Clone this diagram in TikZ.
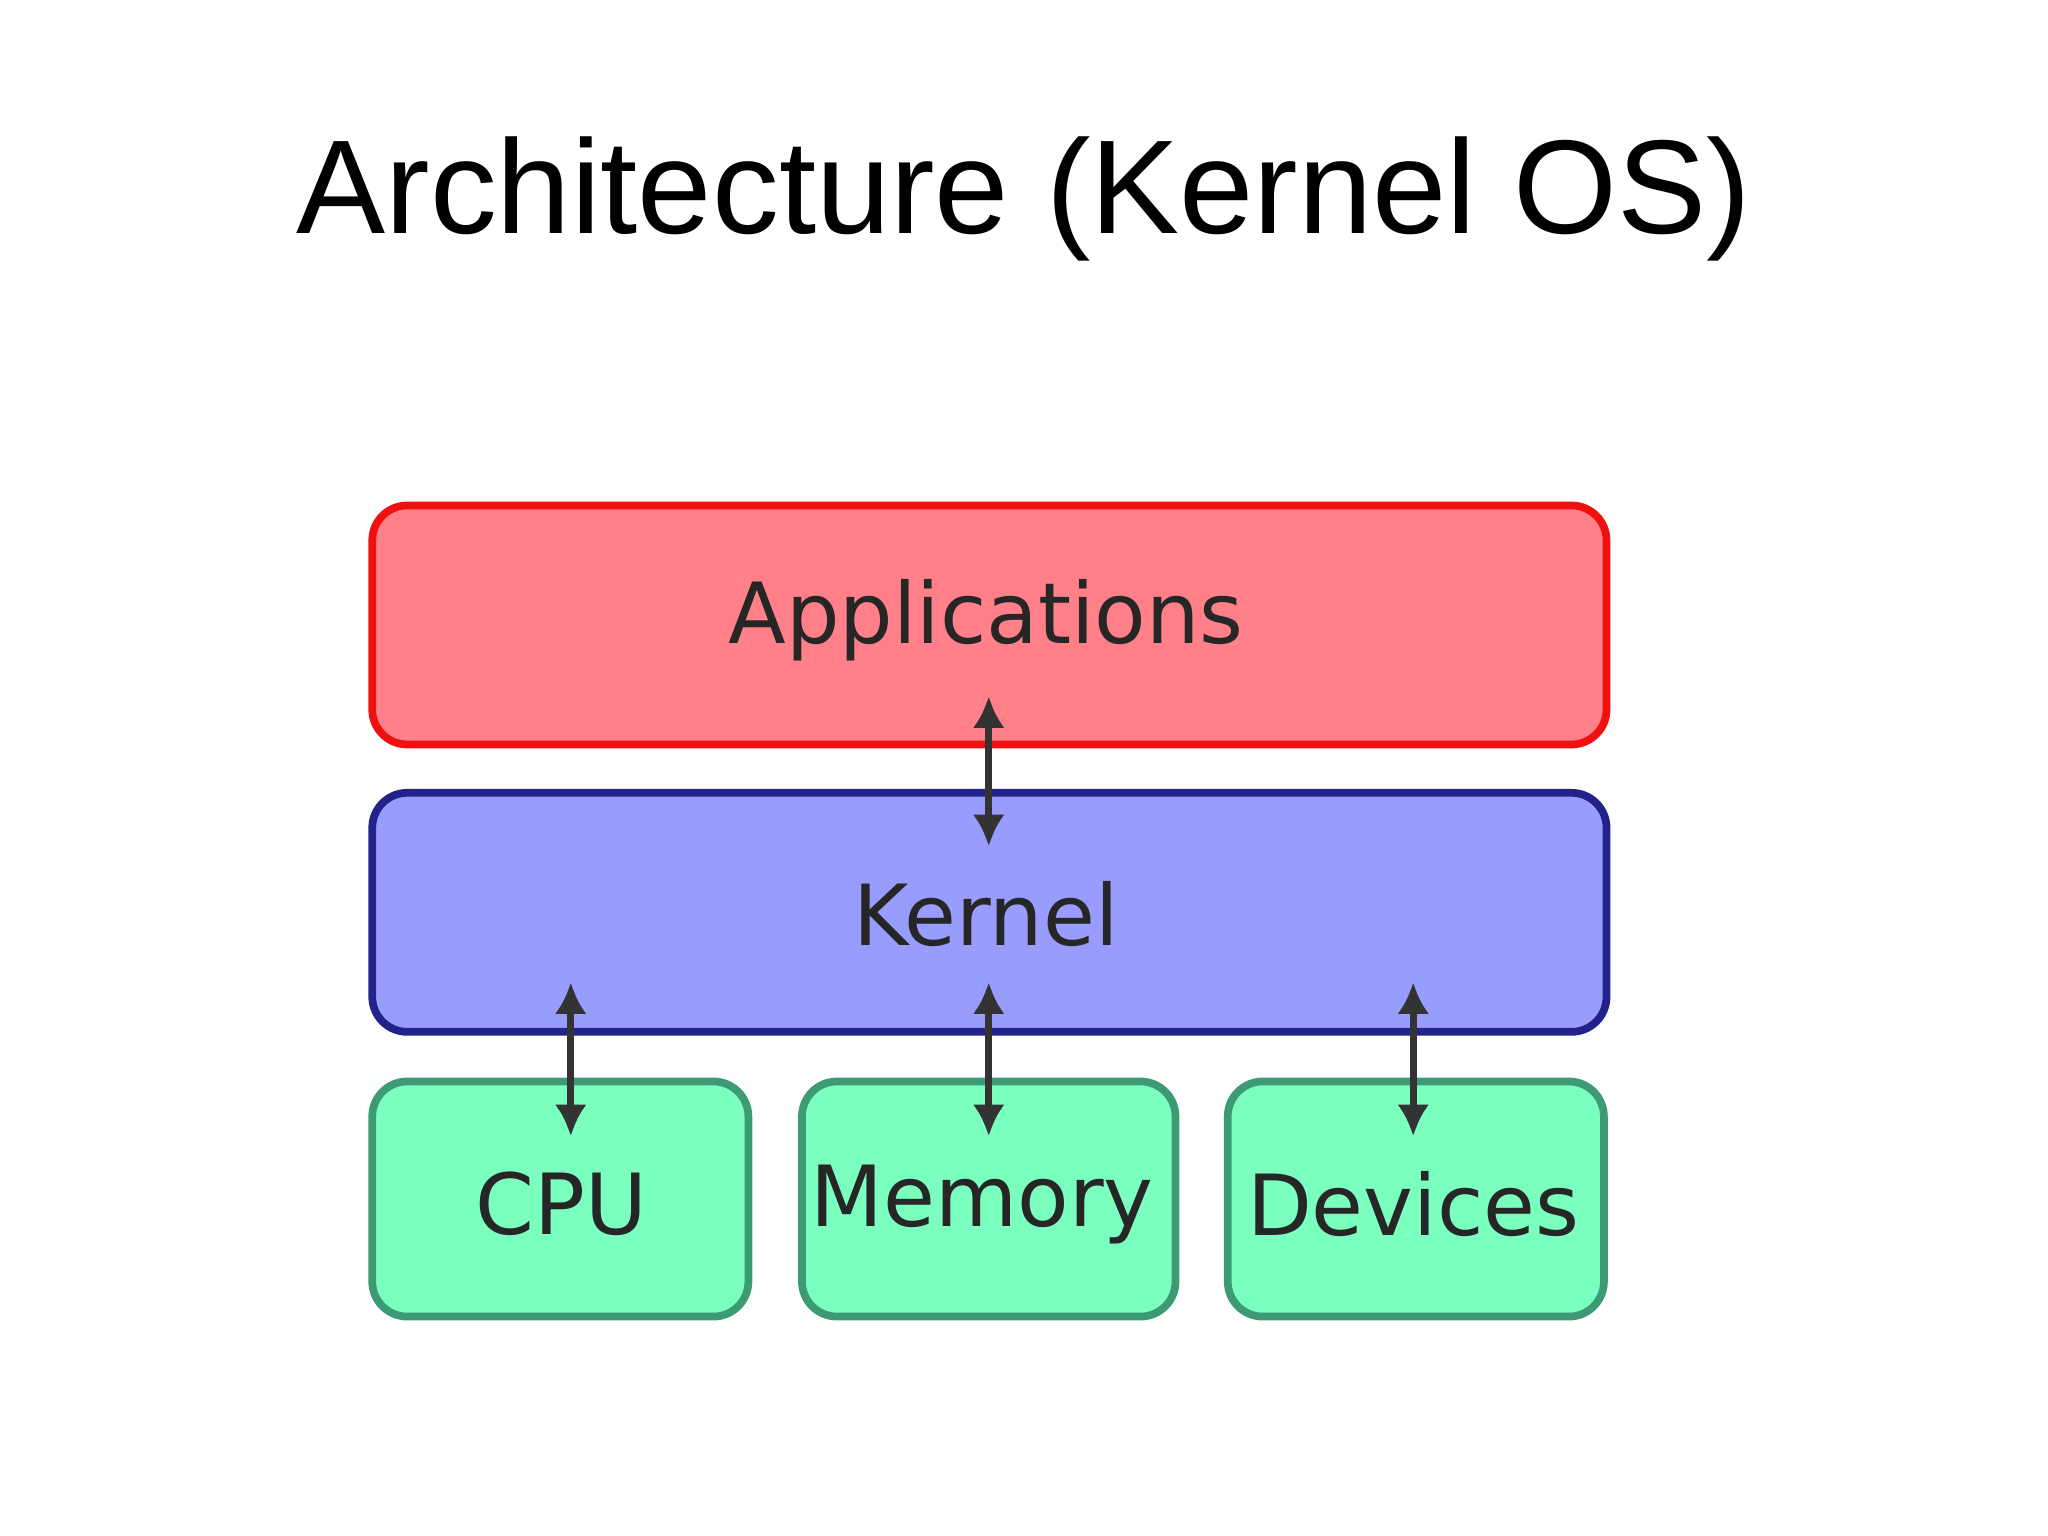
\documentclass[tikz,border=0pt]{standalone}
\usepackage{fontspec}
\setmainfont{Liberation Sans}
\newfontfamily\boxfont{DejaVu Sans}
\usetikzlibrary{arrows.meta}
\definecolor{appfill}{HTML}{FF8088}
\definecolor{appline}{HTML}{F01010}
\definecolor{kerfill}{HTML}{989CFC}
\definecolor{kerline}{HTML}{22228A}
\definecolor{hwfill}{HTML}{7AFFBE}
\definecolor{hwline}{HTML}{3C9A74}
\begin{document}
\begin{tikzpicture}[x=0.013061cm,y=-0.013061cm,
  blk/.style={draw,line width=2.2pt,rounded corners=0.35cm,inner sep=0pt},
  lbl/.style={font=\boxfont\fontsize{24}{28}\selectfont,text=black!85},
  arr/.style={{Latex[length=9pt,width=9pt]}-{Latex[length=9pt,width=9pt]},line width=2pt,draw=black!80}]
\useasboundingbox (0,0) rectangle (1568,1176);
\node[font=\fontsize{38}{44}\selectfont] (title) at (784,152) {Architecture (Kernel OS)};
\draw[blk,draw=appline,fill=appfill] (285,387) rectangle (1230,570);
\node[lbl] (app) at (755,475) {Applications};
\draw[blk,draw=kerline,fill=kerfill] (285,607) rectangle (1230,790);
\node[lbl] (ker) at (755,700) {Kernel};
\draw[blk,draw=hwline,fill=hwfill] (285,828) rectangle (573,1008);
\draw[blk,draw=hwline,fill=hwfill] (614,828) rectangle (900,1008);
\draw[blk,draw=hwline,fill=hwfill] (940,828) rectangle (1228,1008);
\node[lbl] (cpu) at (430,922) {CPU};
\node[lbl] (mem) at (752,922) {Memory};
\node[lbl] (dev) at (1082,922) {Devices};
\coordinate (a1) at (757,533); \coordinate (a2) at (757,648);
\coordinate (c1) at (437,752); \coordinate (c2) at (437,870);
\coordinate (m1) at (757,752); \coordinate (m2) at (757,870);
\coordinate (d1) at (1082,752); \coordinate (d2) at (1082,870);
\draw[arr] (a1) -- (a2);
\draw[arr] (c1) -- (c2);
\draw[arr] (m1) -- (m2);
\draw[arr] (d1) -- (d2);
\end{tikzpicture}
\end{document}
